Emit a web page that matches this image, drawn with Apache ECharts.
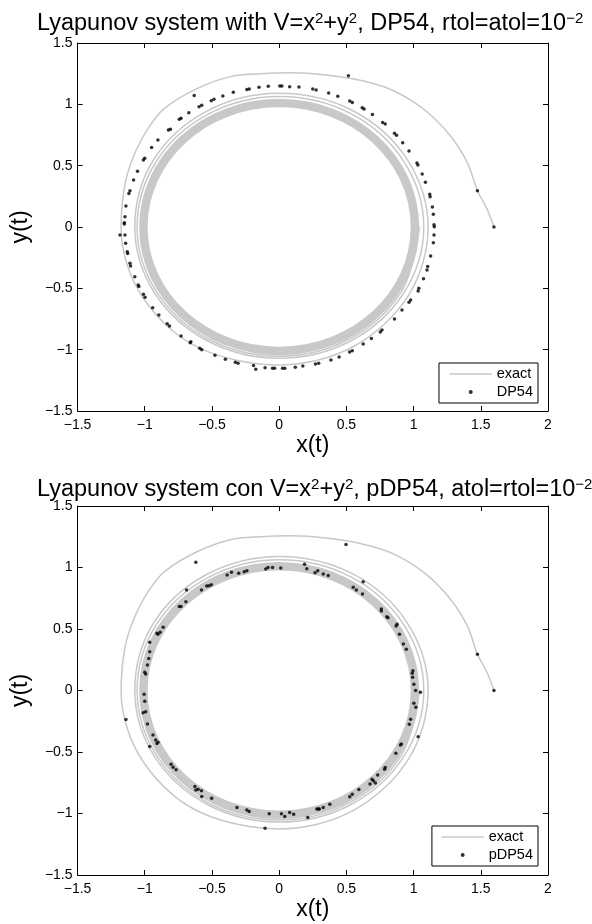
<!DOCTYPE html>
<html><head><meta charset="utf-8">
<script src="https://cdn.jsdelivr.net/npm/echarts@6/dist/echarts.min.js"></script>
<style>html,body{margin:0;padding:0;background:#fff}#c{width:592px;height:924px}</style>
</head><body><div id="c"></div>
<script>
const xTickLabels = ['−1.5','−1','−0.5','0','0.5','1','1.5','2'];
const yTickLabels = ['−1.5','−1','−0.5','0','0.5','1','1.5'];
const titleTexts = [
  'Lyapunov system with V=x{s|2}+y{s|2}, DP54, rtol=atol=10{s|−2}',
  'Lyapunov system con V=x{s|2}+y{s|2}, pDP54, atol=rtol=10{s|−2}'
];
const legendNames = [['exact','DP54'],['exact','pDP54']];

// exact solution: outer spiral revolutions
const exactSpiral = [
  [1.598,0.000],[1.545,0.150],[1.475,0.296],[1.402,0.519],[1.279,0.736],[1.083,0.954],
  [0.838,1.117],[0.593,1.198],[0.348,1.239],[0.103,1.258],[-0.140,1.250],[-0.363,1.226],
  [-0.608,1.130],[-0.853,0.967],[-0.975,0.804],[-1.074,0.601],[-1.135,0.410],[-1.167,0.193],
  [-1.176,0.000],[-1.132,-0.303],[-1.009,-0.583],[-0.800,-0.840],[-0.575,-0.996],[-0.300,-1.090],
  [0.000,-1.125],[0.290,-1.085],[0.560,-0.970],[0.790,-0.785],[0.963,-0.556],[1.070,-0.290],
  [1.108,0.000],
  [0.953,0.550],[0.548,0.948],[0.000,1.090],[-0.544,0.941],[-0.938,0.542],[-1.074,0.000],
  [-0.928,-0.536],[-0.535,-0.927],[0.000,-1.070],[0.535,-0.927],[0.928,-0.536],[1.076,0.000],
  [0.927,0.535],[0.533,0.924],[0.000,1.063],[-0.530,0.918],[-0.917,0.530],[-1.057,0.000],
  [-0.913,-0.527],[-0.527,-0.913],[0.000,-1.053],[0.526,-0.911],[0.910,-0.525],[1.045,0.000]
];
// exact solution: dense band of the limit cycle, [centre x, centre y, radius]
const limitCycle = [[0.000, 0.000, 1.010]];

const dp54 = [
  [1.598,0.000],[1.475,0.296],[0.515,1.234],[-0.632,1.071],
  [-0.596,0.981],[-0.576,0.992],[-0.505,1.030],[-0.485,1.041],[-0.419,1.068],[-0.341,1.098],
  [-0.240,1.120],[-0.223,1.125],[-0.150,1.139],[-0.081,1.147],[0.005,1.149],[0.020,1.149],
  [0.078,1.144],[0.147,1.141],[0.250,1.125],[0.275,1.117],[0.368,1.092],[0.436,1.065],
  [0.525,1.027],[0.544,1.014],[0.618,0.973],[0.632,0.962],[0.694,0.918],[0.770,0.851],
  [0.789,0.840],[0.858,0.764],[0.873,0.747],[0.919,0.687],[0.966,0.620],[1.025,0.522],
  [1.032,0.505],[1.064,0.432],[1.088,0.364],[1.120,0.266],[1.123,0.247],[1.140,0.163],
  [1.147,0.103],[1.152,0.019],[1.154,0.003],
  [-0.672,0.932],[-0.743,0.878],[-0.730,0.886],[-0.809,0.796],[-0.824,0.791],[-0.902,0.709],
  [-0.949,0.649],[-1.000,0.560],[-1.010,0.546],[-1.054,0.454],[-1.083,0.383],[-1.110,0.296],
  [-1.118,0.274],[-1.140,0.171],[-1.147,0.084],[-1.152,0.035],[-1.152,0.024],
  [-1.184,-0.065],[-1.147,-0.065],[-1.142,-0.133],[-1.130,-0.201],[-1.127,-0.217],[-1.110,-0.296],
  [-1.105,-0.318],[-1.074,-0.405],[-1.049,-0.473],[-1.044,-0.486],[-1.010,-0.549],[-0.998,-0.573],
  [-0.941,-0.658],[-0.895,-0.717],[-0.833,-0.788],[-0.816,-0.807],[-0.730,-0.889],[-0.657,-0.935],
  [-0.662,-0.943],[-0.591,-0.989],[-0.576,-1.000],[-0.478,-1.046],[-0.400,-1.078],[-0.326,-1.103],
  [-0.306,-1.111],[-0.191,-1.130],[-0.174,-1.160],[-0.105,-1.147],[-0.049,-1.152],[-0.034,-1.152],
  [0.025,-1.152],[0.042,-1.152],[0.120,-1.144],[0.176,-1.133],[0.270,-1.117],[0.294,-1.111],
  [0.385,-1.084],[0.446,-1.060],[0.524,-1.019],[0.544,-1.008],
  [1.152,-0.065],[1.147,-0.128],[1.127,-0.236],[1.105,-0.323],[1.100,-0.350],[1.074,-0.421],
  [1.039,-0.500],[1.034,-0.522],[0.978,-0.595],[0.966,-0.614],[0.914,-0.677],[0.858,-0.750],
  [0.765,-0.840],[0.752,-0.856],[0.686,-0.908],[0.625,-0.954]
];

const pdp54 = [
  [1.598,0.000],[1.475,0.294],[0.497,1.188],[-0.620,1.042],
  [-0.689,0.817],[-0.694,0.722],[-0.743,0.682],[-0.730,0.682],[-0.578,0.817],[-0.539,0.850],
  [-0.522,0.852],[-0.505,0.860],[-0.387,0.939],[-0.355,0.961],[-0.301,0.953],[-0.260,0.966],
  [-0.240,0.974],[-0.100,0.988],[-0.083,1.001],[-0.049,0.999],[0.012,0.996],[0.189,1.026],
  [0.206,0.990],[0.267,0.958],[0.287,0.974],[0.328,0.947],[0.365,0.934],[0.551,0.839],
  [0.574,0.817],[-0.863,0.514],[-0.885,0.473],[-0.902,0.457],[-0.909,0.465],[-0.963,0.392],
  [-0.963,0.316],[-0.970,0.261],[-0.980,0.207],[-1.000,0.148],[-0.993,0.134],[-1.005,-0.031],
  [0.625,0.885],[0.620,0.785],[0.760,0.663],[0.760,0.646],[0.801,0.600],[0.809,0.592],
  [0.877,0.538],[0.870,0.524],[0.895,0.457],[0.924,0.378],[0.946,0.335],[0.995,0.161],
  [0.990,0.140],[0.993,0.107],[1.002,0.050],[1.015,0.001],[1.051,-0.015],
  [1.002,-0.104],[1.017,-0.137],[0.978,-0.234],[0.968,-0.275],[1.034,-0.375],[0.909,-0.435],
  [0.902,-0.443],[0.868,-0.511],[0.789,-0.625],[0.784,-0.641],[0.733,-0.687],[0.691,-0.722],
  [0.701,-0.733],[0.676,-0.760],[0.716,-0.752],[0.593,-0.804],[0.544,-0.844],[0.525,-0.863],
  [-1.000,-0.088],[-1.012,-0.180],[-0.993,-0.172],[-1.140,-0.235],[-0.980,-0.272],[-0.939,-0.361],
  [-0.919,-0.402],[-0.909,-0.430],[-0.902,-0.420],[-0.963,-0.456],[-0.804,-0.600],[-0.789,-0.624],
  [-0.767,-0.645],[-0.627,-0.781],[-0.620,-0.808],[-0.603,-0.802],[-0.578,-0.816],[-0.576,-0.862],
  [-0.502,-0.876],[-0.314,-0.952],[-0.240,-0.971],[-0.223,-0.984],[-0.105,-1.120],[-0.074,-1.003],
  [0.017,-1.003],[0.042,-1.025],[0.078,-0.992],[0.108,-1.006],[0.213,-1.033],[0.280,-0.963],
  [0.292,-0.963],[0.299,-0.963],[0.328,-0.952],[0.377,-0.925]
];

const F = 'Liberation Sans, Arial, Helvetica, sans-serif';
const GRAY = '#c8c8c8';
const chart = echarts.init(document.getElementById('c'), null, {renderer:'canvas'});

function xLab(v){ return xTickLabels[Math.round((v + 1.5) / 0.5)]; }
function yLab(v){ return yTickLabels[Math.round((v + 1.5) / 0.5)]; }

const lineAx = {show:true, onZero:false, lineStyle:{color:'#000', width:1}};
const tickAx = {show:true, inside:true, length:5, lineStyle:{color:'#000', width:1}};
const nameStyle = {fontFamily:F, fontSize:23, color:'#000', lineHeight:26};

const xAxes = [], yAxes = [];
[0,1].forEach(g => {
  xAxes.push({type:'value', gridIndex:g, min:-1.5, max:2, interval:0.5, position:'bottom',
    axisLine:lineAx, axisTick:tickAx, splitLine:{show:false},
    axisLabel:{margin:7, color:'#000', fontSize:14, fontFamily:F, formatter:xLab},
    name:'x(t)', nameLocation:'middle', nameGap:17, nameTextStyle:nameStyle});
  xAxes.push({type:'value', gridIndex:g, min:-1.5, max:2, interval:0.5, position:'top',
    axisLine:lineAx, axisTick:tickAx, splitLine:{show:false}, axisLabel:{show:false}});
  yAxes.push({type:'value', gridIndex:g, min:-1.5, max:1.5, interval:0.5, position:'left',
    axisLine:lineAx, axisTick:tickAx, splitLine:{show:false},
    axisLabel:{margin:5, color:'#000', fontSize:14, fontFamily:F, formatter:yLab},
    name:'y(t)', nameLocation:'middle', nameGap:40, nameTextStyle:nameStyle});
  yAxes.push({type:'value', gridIndex:g, min:-1.5, max:1.5, interval:0.5, position:'right',
    axisLine:lineAx, axisTick:tickAx, splitLine:{show:false}, axisLabel:{show:false}});
});

function renderBand(params, api) {
  const c = api.coord([api.value(0), api.value(1)]);
  const s = api.size([api.value(2), api.value(2)]);
  return {type:'ellipse', shape:{cx:c[0], cy:c[1], rx:s[0], ry:s[1]},
    style:{fill:'none', stroke:GRAY, lineWidth:8.5}};
}

const series = [];
[[dp54,'DP54'],[pdp54,'pDP54']].forEach((d, g) => {
  series.push({type:'line', name:'exact', xAxisIndex:2*g, yAxisIndex:2*g, data:exactSpiral,
    smooth:0.35, smoothMonotone:'none', symbol:'none', z:2,
    lineStyle:{color:GRAY, width:1.5}, itemStyle:{color:GRAY}, silent:true});
  series.push({type:'custom', name:'exact', xAxisIndex:2*g, yAxisIndex:2*g, data:limitCycle,
    renderItem:renderBand, z:2, silent:true, clip:true});
  series.push({type:'scatter', name:d[1], xAxisIndex:2*g, yAxisIndex:2*g, data:d[0], z:5,
    symbolSize:3.5, itemStyle:{color:'#000'}, silent:true});
});

const titleStyle = {fontFamily:F, fontSize:23.5, fontWeight:'normal', color:'#000', lineHeight:26,
  rich:{s:{fontFamily:F, fontSize:15, lineHeight:13, verticalAlign:'top', color:'#000'}}};

chart.setOption({
  animation:false,
  backgroundColor:'#fff',
  title:[
    {text:titleTexts[0], left:32, top:6, textStyle:titleStyle},
    {text:titleTexts[1], left:32, top:472, textStyle:titleStyle}
  ],
  legend:[0,1].map(g => ({
    data:[{name:legendNames[g][0], itemStyle:{color:'rgba(0,0,0,0)', borderWidth:0}}, legendNames[g][1]],
    orient:'vertical', right:54, top:g ? 826 : 363,
    itemWidth:42, itemHeight:4, itemGap:2, padding:[3,5,3,g ? 9 : 10],
    borderColor:'#000', borderWidth:1, backgroundColor:'#fff',
    lineStyle:{width:1.5}, selectedMode:false,
    textStyle:{fontFamily:F, fontSize:14.5, color:'#000', lineHeight:16}
  })),
  grid:[
    {left:72, top:43, width:476, height:368},
    {left:72, top:506, width:476, height:369}
  ],
  xAxis:xAxes,
  yAxis:yAxes,
  series:series
});
</script></body></html>
